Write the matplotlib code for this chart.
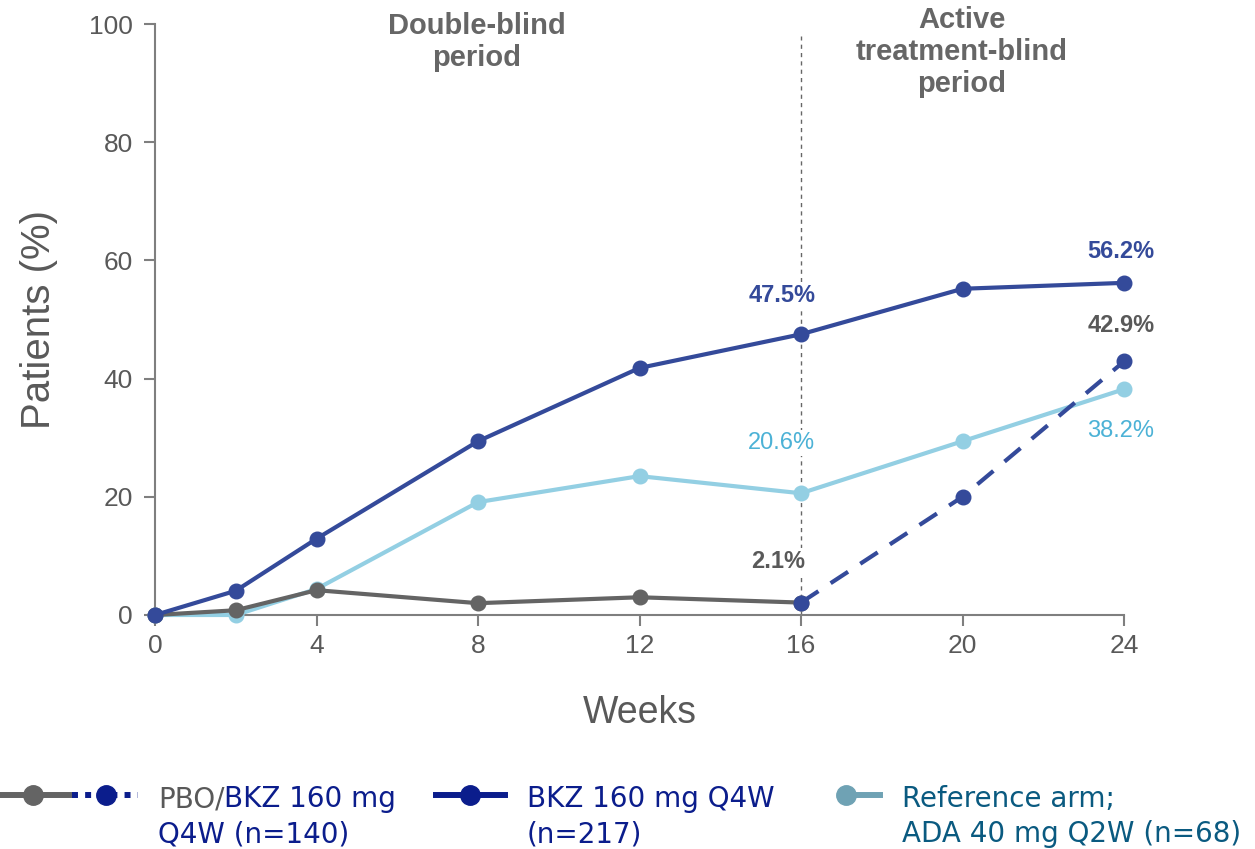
import matplotlib
matplotlib.use("Agg")
import matplotlib.pyplot as plt
from matplotlib.lines import Line2D

# ---- data -------------------------------------------------------------
weeks = [0, 2, 4, 8, 12, 16, 20, 24]
bkz = [0, 4.1, 12.9, 29.4, 41.8, 47.5, 55.2, 56.2]
ada = [0, 0, 4.4, 19.1, 23.5, 20.6, 29.4, 38.2]
pbo_weeks = [0, 2, 4, 8, 12, 16]
pbo = [0, 0.8, 4.2, 2.0, 3.0, 2.1]
switch_weeks = [16, 20, 24]
switch = [2.1, 20.0, 42.9]

x_ticks = [0, 4, 8, 12, 16, 20, 24]
y_ticks = [0, 20, 40, 60, 80, 100]

# ---- colours ----------------------------------------------------------
C_BKZ = "#344a9a"
C_ADA = "#93cfe3"
C_PBO = "#646464"
C_AXIS = "#7f7f7f"
C_TEXT = "#595959"
C_LEG_NAVY = "#0b1d8c"
C_LEG_TEAL = "#0a5a80"
C_LEG_ADA = "#6fa2b4"
C_ADA_TXT = "#4cb2d6"

SANS = ["Liberation Sans", "DejaVu Sans"]
LEG = ["DejaVu Sans"]

W, H = 1255, 849
fig = plt.figure(figsize=(W / 100, H / 100), dpi=100)
ax = fig.add_axes([155 / W, 1 - 615 / H, (1124 - 155) / W, (615 - 24) / H])

lw = 3.0
ms = 10.5

ax.plot(weeks, ada, color=C_ADA, lw=lw, marker="o", ms=ms, clip_on=False, zorder=3)
ax.plot(pbo_weeks, pbo, color=C_PBO, lw=lw, marker="o", ms=ms, clip_on=False, zorder=4)
ax.plot(weeks, bkz, color=C_BKZ, lw=lw, marker="o", ms=ms, clip_on=False, zorder=5)
ax.plot(switch_weeks, switch, color=C_BKZ, lw=lw, marker="o", ms=ms,
        dashes=(5, 3.5), clip_on=False, zorder=6)

# boundary between study periods
ax.plot([16, 16], [0, 98], color="#666666", lw=1.0, ls=(0, (3, 3)), zorder=1, clip_on=False)

ax.set_xlim(0, 24)
ax.set_ylim(0, 100)
ax.set_xticks(x_ticks)
ax.set_yticks(y_ticks)
for s in ["top", "right"]:
    ax.spines[s].set_visible(False)
for s in ["left", "bottom"]:
    ax.spines[s].set_color(C_AXIS)
    ax.spines[s].set_linewidth(1.5)
ax.tick_params(colors=C_AXIS, width=1.5, length=8, labelsize=19, labelcolor=C_TEXT)
ax.tick_params(axis="x", pad=6)
ax.tick_params(axis="y", pad=8)
for lab in ax.get_xticklabels() + ax.get_yticklabels():
    lab.set_family(SANS)

ax.set_ylabel("Patients (%)", fontsize=29, color=C_TEXT, family=SANS, labelpad=22)
ax.set_xlabel("Weeks", fontsize=27, color=C_TEXT, family=SANS, labelpad=26)

# value labels
box = dict(facecolor="white", edgecolor="none", pad=1.5)
def label(x, y, txt, dx, dy, color, weight="bold"):
    ax.annotate(txt, (x, y), xytext=(dx, dy), textcoords="offset pixels",
                ha="center", va="center", fontsize=17, fontweight=weight,
                color=color, family=SANS, bbox=box, zorder=2)

label(16, bkz[5], f"{bkz[5]}%", -19, 39, C_BKZ)
label(16, pbo[5], f"{pbo[5]}%", -23, 41, C_TEXT)
label(16, ada[5], f"{ada[5]}%", -20, 50, C_ADA_TXT, weight="normal")
label(24, bkz[7], f"{bkz[7]}%", -3, 31, C_BKZ)
label(24, switch[2], f"{switch[2]}%", -3, 36, C_TEXT)
label(24, ada[7], f"{ada[7]}%", -3, -42, C_ADA_TXT, weight="normal")

# period headings
fig.text(477 / W, 1 - 42 / H, "Double-blind\nperiod", ha="center", va="center",
         fontsize=21, fontweight="bold", color="#666666", family=SANS, linespacing=1.15)
fig.text(962 / W, 1 - 52 / H, "Active\ntreatment-blind\nperiod", ha="center", va="center",
         fontsize=21, fontweight="bold", color="#666666", family=SANS, linespacing=1.2)

# ---- legend -----------------------------------------------------------
def fx(px):
    return px / W

def fy(py):
    return 1 - py / H

ly = 795
leg_ms = 14
leg_lw = 4.3
fig.add_artist(Line2D([fx(0), fx(70)], [fy(ly), fy(ly)], color=C_PBO, lw=leg_lw))
fig.add_artist(Line2D([fx(33)], [fy(ly)], color=C_PBO, marker="o", ms=leg_ms, lw=0))
fig.add_artist(Line2D([fx(72), fx(138)], [fy(ly), fy(ly)], color=C_LEG_NAVY, lw=leg_lw,
                      ls=(0, (1.0, 1.2)), solid_capstyle="butt", dash_capstyle="butt"))
fig.add_artist(Line2D([fx(106)], [fy(ly)], color=C_LEG_NAVY, marker="o", ms=leg_ms, lw=0))

fig.add_artist(Line2D([fx(436), fx(505)], [fy(ly), fy(ly)], color=C_LEG_NAVY, lw=leg_lw))
fig.add_artist(Line2D([fx(470)], [fy(ly)], color=C_LEG_NAVY, marker="o", ms=leg_ms, lw=0))

fig.add_artist(Line2D([fx(846), fx(880)], [fy(ly), fy(ly)], color=C_LEG_ADA, lw=leg_lw))
fig.add_artist(Line2D([fx(846)], [fy(ly)], color=C_LEG_ADA, marker="o", ms=leg_ms, lw=0))

lfs = 20
t1 = fig.text(fx(158), fy(807), "PBO/", ha="left", va="baseline", fontsize=lfs,
              color=C_TEXT, family=LEG)
ax.annotate("BKZ 160 mg", xy=(1, 0), xycoords=t1, xytext=(0, 0), textcoords="offset points",
            ha="left", va="bottom", fontsize=lfs, color=C_LEG_NAVY, family=LEG,
            annotation_clip=False)
fig.text(fx(158), fy(842), "Q4W (n=140)", ha="left", va="baseline", fontsize=lfs,
         color=C_LEG_NAVY, family=LEG)

fig.text(fx(527), fy(807), "BKZ 160 mg Q4W", ha="left", va="baseline", fontsize=lfs,
         color=C_LEG_NAVY, family=LEG)
fig.text(fx(527), fy(842), "(n=217)", ha="left", va="baseline", fontsize=lfs,
         color=C_LEG_NAVY, family=LEG)

fig.text(fx(902), fy(807), "Reference arm;", ha="left", va="baseline", fontsize=lfs,
         color=C_LEG_TEAL, family=LEG)
fig.text(fx(902), fy(842), "ADA 40 mg Q2W (n=68)", ha="left", va="baseline", fontsize=lfs,
         color=C_LEG_TEAL, family=LEG)

fig.savefig("out.png", dpi=100)
